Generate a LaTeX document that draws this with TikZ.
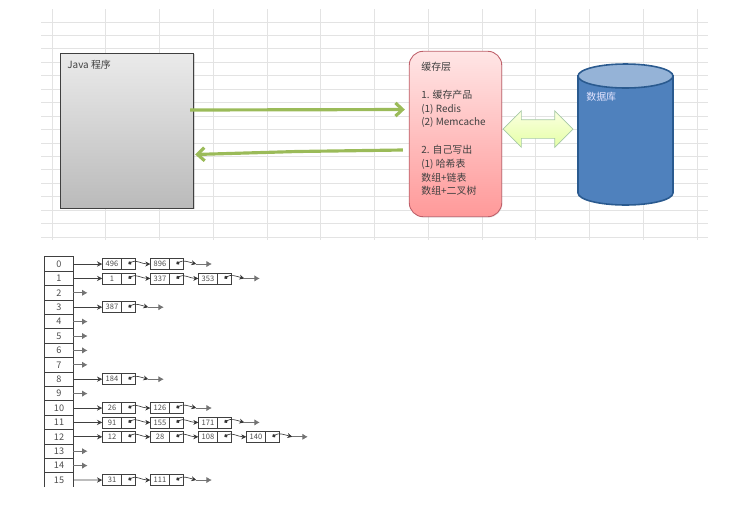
\documentclass[tikz,border=0pt]{standalone}
\usepackage{fontspec}
\setmainfont{Noto Sans CJK SC}
\usetikzlibrary{arrows.meta,shapes.arrows,positioning,shadows}
\definecolor{dbbody}{RGB}{79,129,189}
\definecolor{dbtop}{RGB}{149,179,215}
\definecolor{dbedge}{RGB}{42,90,143}
\definecolor{cacheedge}{RGB}{190,95,105}
\definecolor{arrgreen}{RGB}{155,187,89}

\begin{document}
\begin{tikzpicture}[
    x=0.02cm, y=-0.02cm,
    sheet/.style={gray!22, line width=0.5pt},
    txt/.style={font=\fontsize{5.65}{7.85}\selectfont, text=black!75, inner sep=0pt},
    javabox/.style={draw=black!75, line width=0.5pt, top color=black!8, bottom color=black!27, minimum width=2.67cm, minimum height=3.1cm, inner sep=0pt, drop shadow={opacity=0.3, shadow xshift=0.5pt, shadow yshift=-0.5pt}},
    cachebox/.style={draw=cacheedge, line width=0.5pt, rounded corners=8pt, top color=red!10, bottom color=red!40, minimum width=1.85cm, minimum height=3.31cm, inner sep=0pt, drop shadow={opacity=0.2, shadow xshift=0.4pt, shadow yshift=-0.5pt}},
    dbline/.style={draw=dbedge, line width=0.9pt},
    dblarr/.style={double arrow, draw=green!40!black!35, line width=0.4pt, top color=green!12!yellow!12, bottom color=green!30!yellow!35, minimum height=1.4cm, double arrow head extend=0.18cm, inner xsep=0pt, inner ysep=0.18cm},
    garr/.style={-{Straight Barb[length=4pt, width=7.5pt]}, line width=1.8pt, draw=arrgreen},
    rowbox/.style={draw=black!75, line width=0.4pt, minimum width=0.58cm, minimum height=0.288cm, inner sep=0pt, outer sep=0pt, font=\fontsize{5.2}{6}\selectfont, text=black!70},
    valbox/.style={draw=black!75, line width=0.35pt, minimum width=0.39cm, minimum height=0.22cm, inner sep=0pt, outer sep=0pt, font=\fontsize{4.3}{5}\selectfont, text=black!70},
    ptrbox/.style={draw=black!75, line width=0.35pt, minimum width=0.27cm, minimum height=0.22cm, inner sep=0pt, outer sep=0pt},
    nxt/.style={{Circle[length=2pt]}-{Stealth[length=2.8pt, width=2.8pt]}, black!80, line width=0.35pt},
    head/.style={-{Stealth[length=3pt, width=3pt]}, black!75, line width=0.4pt},
    stub/.style={-{Latex[length=3pt, width=3.5pt]}, black!55, line width=0.4pt}
]
\useasboundingbox (0,0) rectangle (740,508);

% spreadsheet behind the top half
\foreach \gx in {0,...,12} \draw[sheet] ({52+53.75*\gx},9) -- ({52+53.75*\gx},240);
\foreach \gy in {0,...,16} \draw[sheet] (41,{22+13.44*\gy}) -- (708,{22+13.44*\gy});

\node[javabox] (java) at (127,130.5) {};
\node[txt, anchor=west] (javatxt) at (67,65) {Java 程序};
\node[cachebox] (cache) at (455.5,134) {};
\node[txt, anchor=north west, align=left] (cachetxt) at (421,62) {缓存层\\~\\1. 缓存产品\\(1) Redis\\(2) Memcache\\~\\2. 自己写出\\(1) 哈希表\\数组+链表\\数组+二叉树};

% database drum
\filldraw[fill=dbbody, dbline] (578,76) -- (578,193) arc[x radius=0.95cm, y radius=0.24cm, start angle=180, end angle=360] -- (673,76) -- cycle;
\filldraw[fill=dbtop, dbline] (625.5,76) ellipse[x radius=0.95cm, y radius=0.24cm];
\node[txt, anchor=west, text=white!90!blue] (dbtxt) at (586,97) {数据库};
\node[dblarr] (link) at (538,129) {};

\draw[garr] ([xshift=-0.08cm, yshift=0.41cm]java.east) -- ([xshift=-0.08cm, yshift=0.49cm]cache.west);
\draw[garr] ([xshift=-0.12cm, yshift=-0.32cm]cache.west) -- (297,151.5) -- ([xshift=0.02cm, yshift=-0.48cm]java.east);

% hash table
\foreach \r in {0,...,14} \node[rowbox] (r\r) at (59,{264+14.4*\r}) {\r};
\node[rowbox, draw=none] (r15) at (59,480) {15};
\draw[black!75, line width=0.4pt] (r15.south west) |- (r15.north east) -- (r15.south east);

% empty buckets
\foreach \r in {2,4,5,6,7,9,13,14} {
    \coordinate[right=0.28cm of r\r] (e\r);
    \draw[stub] (r\r) -- (e\r);
}

% buckets with a list
\foreach \r/\cells in {0/{496,896},1/{1,337,353},3/{387},8/{184},10/{26,126},11/{91,155,171},12/{12,28,108,140},15/{31,111}} {
    \foreach \v [count=\i, remember=\i as \j (initially 0)] in \cells {
        \node[valbox] (v\r-\i) at ({112+48*(\i-1)},{264+14.4*\r}) {\v};
        \node[ptrbox, right=0pt of v\r-\i] (p\r-\i) {};
        \ifnum\i=1
            \draw[head] (r\r) -- (v\r-1);
        \else
            \draw[nxt] (p\r-\j.center) to[out=35, in=180] (v\r-\i);
        \fi
        \xdef\lastcell{\i}
    }
    \coordinate[right=0.26cm of p\r-\lastcell] (t\r);
    \coordinate[right=0.31cm of t\r] (e\r);
    \draw[nxt] (p\r-\lastcell.center) to[out=35, in=165] (t\r);
    \draw[stub] (t\r) -- (e\r);
}
\end{tikzpicture}
\end{document}
